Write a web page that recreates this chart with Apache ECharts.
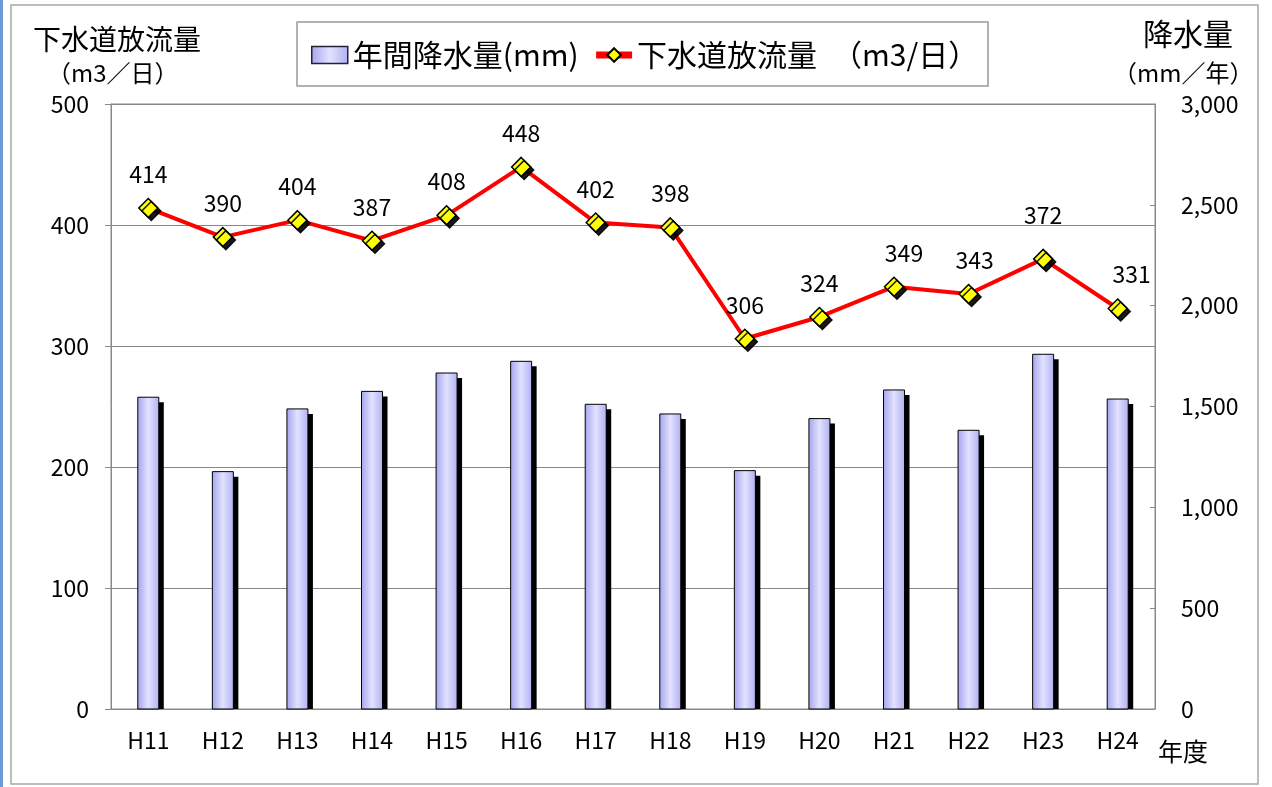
<!DOCTYPE html>
<html>
<head>
<meta charset="utf-8">
<script src="https://cdn.jsdelivr.net/npm/echarts@6/dist/echarts.min.js"></script>
<style>
  html, body { margin: 0; padding: 0; background: #fff; }
  #chart { width: 1272px; height: 787px; }
</style>
</head>
<body>
<div id="chart"></div>
<script>
const years = ["H11", "H12", "H13", "H14", "H15", "H16", "H17", "H18", "H19", "H20", "H21", "H22", "H23", "H24"];
const rainfall = [1546, 1177, 1488, 1575, 1666, 1724, 1511, 1463, 1182, 1440, 1582, 1382, 1759, 1537];
const discharge = [414, 390, 404, 387, 408, 448, 402, 398, 306, 324, 349, 343, 372, 331];

const FONT = '"Noto Sans CJK JP", "Noto Sans", sans-serif';

const chart = echarts.init(document.getElementById("chart"));

const barFill = new echarts.graphic.LinearGradient(0, 0, 1, 0, [
  { offset: 0, color: "#a4a4ee" },
  { offset: 0.5, color: "#e2e2ff" },
  { offset: 1, color: "#b0b0f2" },
]);

// some labels in the source were nudged sideways by hand
const labelNudge = { 10: [10, 0], 11: [6, 0], 12: [0, -10], 13: [14, 0] };

const BAR_W = 21;

// bar with a hard black drop shadow (like the Excel 3d-ish look)
function renderBar(params, api) {
  const top = api.coord([api.value(0), api.value(1)]);
  const base = api.coord([api.value(0), 0]);
  const x = top[0] - BAR_W / 2;
  const h = base[1] - top[1];
  return {
    type: "group",
    children: [
      {
        type: "rect",
        shape: { x: x + 5, y: top[1] + 5, width: BAR_W, height: Math.max(h - 5, 0) },
        style: { fill: "#000" },
      },
      {
        type: "rect",
        shape: { x: x, y: top[1], width: BAR_W, height: h },
        style: { fill: barFill, stroke: "#000", lineWidth: 1 },
      },
    ],
  };
}

const option = {
  backgroundColor: "#fff",
  animation: false,
  textStyle: { fontFamily: FONT },
  grid: { left: 111, right: 117, top: 104, bottom: 78, show: true, borderColor: "#888", borderWidth: 1 },
  legend: {
    left: 306,
    top: 35,
    itemWidth: 36,
    itemHeight: 17,
    itemGap: 14,
    textStyle: { fontFamily: FONT, fontSize: 30, color: "#000" },
    data: [
      { name: "年間降水量(mm)", icon: "rect", itemStyle: { color: barFill, borderColor: "#223", borderWidth: 1.5 } },
      { name: "下水道放流量　（m3/日）", lineStyle: { width: 7, color: "#ff0000" } },
    ],
  },
  xAxis: {
    type: "category",
    data: years,
    axisLine: { lineStyle: { color: "#888", width: 1 } },
    axisTick: { inside: true, length: 6, lineStyle: { color: "#888" } },
    axisLabel: { fontFamily: FONT, fontSize: 23, color: "#000", margin: 20 },
  },
  yAxis: [
    {
      type: "value",
      min: 0,
      max: 500,
      interval: 100,
      axisLine: { show: true, lineStyle: { color: "#888" } },
      axisTick: { show: true, length: 6, lineStyle: { color: "#888" } },
      axisLabel: { fontFamily: FONT, fontSize: 23, color: "#000", margin: 22 },
      splitLine: { lineStyle: { color: "#888", width: 1 } },
    },
    {
      type: "value",
      min: 0,
      max: 3000,
      interval: 500,
      axisLine: { show: true, lineStyle: { color: "#888" } },
      axisTick: { show: true, inside: true, length: 5, lineStyle: { color: "#888" } },
      axisLabel: {
        fontFamily: FONT, fontSize: 23, color: "#000", margin: 26,
        formatter: (v) => v.toLocaleString("en-US"),
      },
      splitLine: { show: false },
    },
  ],
  series: [
    {
      name: "年間降水量(mm)",
      type: "custom",
      yAxisIndex: 1,
      renderItem: renderBar,
      encode: { x: 0, y: 1 },
      data: rainfall.map((v, i) => [i, v]),
      itemStyle: { color: "#c8c8fa" },
      z: 2,
    },
    {
      name: "下水道放流量　（m3/日）",
      type: "line",
      yAxisIndex: 0,
      data: discharge.map((v, i) => labelNudge[i]
        ? { value: v, label: { offset: labelNudge[i] } }
        : v),
      symbol: "diamond",
      symbolSize: 19,
      lineStyle: { color: "#ff0000", width: 4 },
      itemStyle: {
        color: "#ffff00",
        borderColor: "#000",
        borderWidth: 1.5,
        shadowColor: "rgba(0,0,0,0.9)",
        shadowBlur: 0,
        shadowOffsetX: 3,
        shadowOffsetY: 3,
      },
      label: {
        show: true,
        position: "top",
        distance: 12,
        fontFamily: FONT,
        fontSize: 23,
        color: "#000",
      },
      z: 5,
    },
  ],
  graphic: [
    { type: "rect", shape: { x: 11, y: 5, width: 1247, height: 779 }, style: { fill: "none", stroke: "#a8a8a8", lineWidth: 1.5 }, silent: true },
    { type: "rect", shape: { x: 0, y: 0, width: 3, height: 787 }, style: { fill: "#6d9ad6" }, silent: true },
    { type: "rect", shape: { x: 297, y: 22, width: 691, height: 64 }, style: { fill: "none", stroke: "#999", lineWidth: 1.5 }, silent: true, z: -1 },
    { type: "text", left: 33, top: 25, style: { text: "下水道放流量", font: "28px " + FONT, fill: "#000" } },
    { type: "text", left: 47, top: 61, style: { text: "（m3／日）", font: "24px " + FONT, fill: "#000" } },
    { type: "text", left: 1143, top: 19, style: { text: "降水量", font: "30px " + FONT, fill: "#000" } },
    { type: "text", left: 1113, top: 61, style: { text: "（mm／年）", font: "24px " + FONT, fill: "#000" } },
    { type: "text", left: 1158, top: 739, style: { text: "年度", font: "25px " + FONT, fill: "#000" } },
  ],
};

chart.setOption(option);
</script>
</body>
</html>
